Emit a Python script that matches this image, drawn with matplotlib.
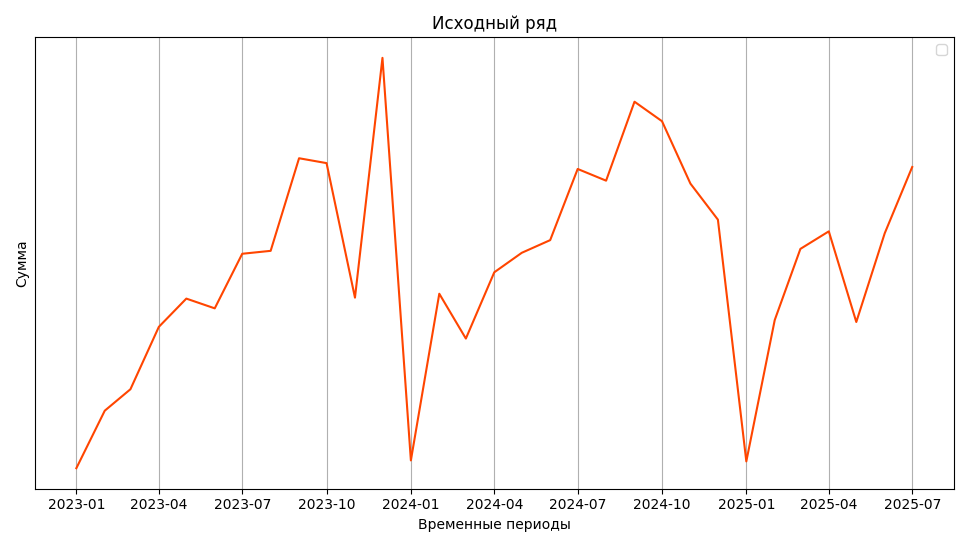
import numpy as np
import pandas as pd
import matplotlib
matplotlib.use("Agg")
import matplotlib.pyplot as plt

# monthly totals (relative units, y axis has no labels)
dates = pd.date_range("2023-01-01", "2025-07-01", freq="MS")
values = [27, 86, 108, 172, 201, 191, 247, 250, 345, 340, 202, 448,
          35, 206, 160, 228, 248, 261, 334, 322, 403, 383, 319, 282,
          34, 179, 252, 270, 177, 268, 336]

fig, ax = plt.subplots(figsize=(9.69, 5.47), dpi=100)
ax.plot(dates, values, color="#FF4500")
ax.set_title("Исходный ряд")
ax.set_xlabel("Временные периоды")
ax.set_ylabel("Сумма")
ax.set_yticks([])
ax.grid(True, axis="x")
ax.legend(handles=[], loc="upper right")
ticks = pd.date_range("2023-01-01", "2025-07-01", freq="3MS")
ax.set_xticks(ticks)
ax.set_xticklabels([d.strftime("%Y-%m") for d in ticks])
plt.tight_layout()
plt.savefig("out.png")
